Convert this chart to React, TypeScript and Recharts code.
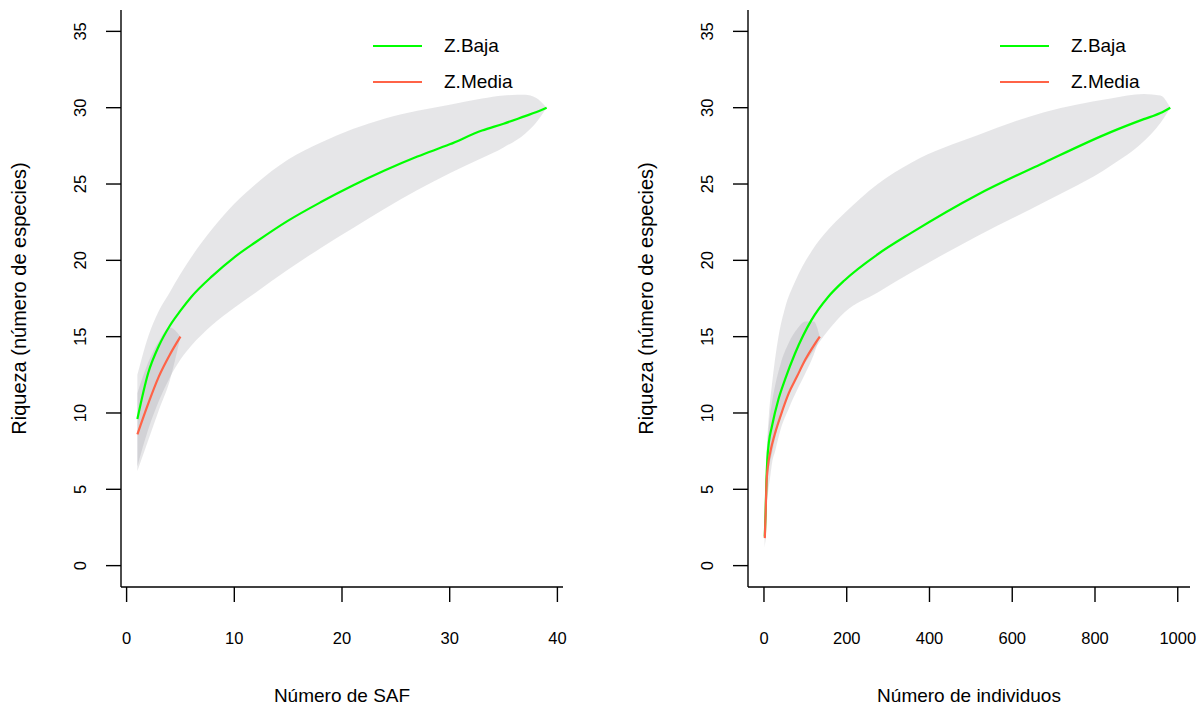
import { ComposedChart, Area, Line, XAxis, YAxis } from "recharts"

const FONT = '"Liberation Sans", Arial, sans-serif'

// eje Y compartido
const riquezaTicks = [0, 5, 10, 15, 20, 25, 30, 35]

// leyenda
const seriesNames = ["Z.Baja", "Z.Media"]
const seriesColors = ["#00ff00", "#ff6347"]

// Número de SAF
const safTicks = [0, 10, 20, 30, 40]
const bajaSafX = [1, 2, 3, 4, 5, 6, 8, 10, 12, 15, 18, 21, 24, 27, 30, 33, 35, 37, 38, 39]
const bajaSafMean = [9.6, 12.6, 14.4, 15.7, 16.7, 17.6, 19.0, 20.2, 21.2, 22.6, 23.8, 24.9, 25.9, 26.8, 27.6, 28.5, 28.95, 29.45, 29.7, 30.0]
const bajaSafUpper = [12.5, 15.0, 16.7, 17.9, 19.1, 20.2, 22.1, 23.7, 25.0, 26.6, 27.7, 28.6, 29.3, 29.8, 30.2, 30.6, 30.8, 30.85, 30.65, 30.0]
const bajaSafLower = [6.5, 8.9, 10.8, 12.3, 13.5, 14.4, 15.8, 16.9, 17.9, 19.4, 20.8, 22.1, 23.4, 24.6, 25.7, 26.7, 27.4, 28.3, 29.0, 30.0]
const mediaSafX = [1, 2, 3, 4, 5]
const mediaSafMean = [8.6, 10.6, 12.4, 13.8, 15.0]
const mediaSafUpper = [11.3, 13.3, 14.7, 15.6, 15.0]
const mediaSafLower = [6.2, 8.2, 10.2, 12.1, 15.0]

// Número de individuos
const indTicks = [0, 200, 400, 600, 800, 1000]
const bajaIndX = [2, 4, 6, 8, 12, 19, 35, 51, 75, 115, 155, 195, 275, 356, 516, 677, 838, 918, 958, 982]
const bajaIndMean = [1.9, 3.6, 5.6, 6.9, 8.1, 9.1, 10.9, 12.2, 13.9, 16.1, 17.6, 18.7, 20.4, 21.8, 24.3, 26.4, 28.4, 29.25, 29.65, 30.0]
const bajaIndUpper = [2.6, 5.2, 7.0, 8.2, 9.9, 11.8, 15.0, 16.9, 18.6, 20.6, 22.0, 23.1, 25.0, 26.4, 28.2, 29.7, 30.6, 30.9, 30.8, 30.0]
const bajaIndLower = [1.2, 2.2, 4.0, 5.2, 6.3, 7.3, 9.3, 10.7, 12.2, 13.9, 15.4, 16.6, 17.9, 19.2, 21.6, 23.8, 26.2, 27.8, 29.0, 30.0]
const mediaIndX = [2, 4, 6, 10, 15, 20, 27, 40, 60, 80, 100, 120, 135]
const mediaIndMean = [1.8, 3.4, 5.3, 6.6, 7.4, 8.0, 8.7, 9.8, 11.3, 12.4, 13.5, 14.4, 15.0]
const mediaIndUpper = [2.4, 4.8, 7.0, 8.6, 9.9, 10.8, 11.8, 13.2, 14.6, 15.5, 16.0, 16.0, 15.0]
const mediaIndLower = [1.2, 2.0, 3.6, 4.8, 5.8, 6.8, 7.5, 8.9, 10.3, 11.5, 12.6, 13.8, 15.0]

const toRows = (xs: number[], mean: number[], lower: number[], upper: number[]) =>
  xs.map((x, i) => ({ x, y: mean[i], band: [lower[i], upper[i]] }))

const XTick = ({ x, y, payload }: any) => (
  <text x={x} y={y + 40} textAnchor="middle" fontSize={16.5} fontFamily={FONT} fill="#000">
    {payload.value}
  </text>
)

const YTick = ({ x, y, payload }: any) => {
  const bx = x - 18
  return (
    <text x={bx} y={y} transform={`rotate(-90 ${bx} ${y})`} textAnchor="middle" fontSize={16.5} fontFamily={FONT} fill="#000">
      {payload.value}
    </text>
  )
}

function ChartLegend({ left }: { left: number }) {
  return (
    <div style={{ position: "absolute", left, top: 28, fontFamily: FONT, fontSize: 19, color: "#000" }}>
      {seriesNames.map((name, i) => (
        <div key={name} style={{ display: "flex", alignItems: "center", height: 36 }}>
          <svg width={49} height={4} style={{ display: "block" }}>
            <line x1={0} y1={2} x2={49} y2={2} stroke={seriesColors[i]} strokeWidth={2} />
          </svg>
          <span style={{ marginLeft: 22 }}>{name}</span>
        </div>
      ))}
    </div>
  )
}

type Row = { x: number; y: number; band: number[] }
type PanelProps = {
  baja: Row[]
  media: Row[]
  xDomain: [number, number]
  xTicks: number[]
  yAxisWidth: number
  rightMargin: number
  xTitle: string
  legendLeft: number
}

function Panel({ baja, media, xDomain, xTicks, yAxisWidth, rightMargin, xTitle, legendLeft }: PanelProps) {
  const plotLeft = yAxisWidth
  const plotRight = 602 - rightMargin
  const titleX = (plotLeft + plotRight) / 2
  const yTitleX = yAxisWidth - 95
  return (
    <div style={{ position: "relative", width: 602, height: 709 }}>
      <ComposedChart width={602} height={709} margin={{ top: 10, right: rightMargin, bottom: 0, left: 0 }}>
        <XAxis
          type="number"
          dataKey="x"
          domain={xDomain}
          ticks={xTicks}
          allowDataOverflow
          height={122}
          tickSize={15}
          tick={<XTick />}
          axisLine={{ stroke: "#000", strokeWidth: 1.4 }}
          tickLine={{ stroke: "#000", strokeWidth: 1.4 }}
          label={() => (
            <text x={titleX} y={702} textAnchor="middle" fontSize={19} fontFamily={FONT} fill="#000">
              {xTitle}
            </text>
          )}
        />
        <YAxis
          type="number"
          domain={[-1.4, 36.4]}
          ticks={riquezaTicks}
          allowDataOverflow
          width={yAxisWidth}
          tickSize={15}
          tick={<YTick />}
          axisLine={{ stroke: "#000", strokeWidth: 1.4 }}
          tickLine={{ stroke: "#000", strokeWidth: 1.4 }}
          label={() => (
            <text
              x={yTitleX}
              y={298.5}
              transform={`rotate(-90 ${yTitleX} 298.5)`}
              textAnchor="middle"
              fontSize={20}
              fontFamily={FONT}
              fill="#000"
            >
              Riqueza (número de especies)
            </text>
          )}
        />
        <Area data={baja} dataKey="band" type="monotone" stroke="none" fill="#8c8c96" fillOpacity={0.22} legendType="none" isAnimationActive={false} />
        <Area data={media} dataKey="band" type="monotone" stroke="none" fill="#8c8c96" fillOpacity={0.22} legendType="none" isAnimationActive={false} />
        <Line data={baja} dataKey="y" name={seriesNames[0]} type="monotone" stroke={seriesColors[0]} strokeWidth={2.2} dot={false} isAnimationActive={false} />
        <Line data={media} dataKey="y" name={seriesNames[1]} type="monotone" stroke={seriesColors[1]} strokeWidth={2.2} dot={false} isAnimationActive={false} />
      </ComposedChart>
      <ChartLegend left={legendLeft} />
    </div>
  )
}

export default function App() {
  return (
    <div style={{ position: "absolute", left: 0, top: 0, width: 1204, height: 709, background: "#fff" }}>
      <div style={{ position: "absolute", left: 0, top: 0 }}>
        <Panel
          baja={toRows(bajaSafX, bajaSafMean, bajaSafLower, bajaSafUpper)}
          media={toRows(mediaSafX, mediaSafMean, mediaSafLower, mediaSafUpper)}
          xDomain={[-0.52, 40.52]}
          xTicks={safTicks}
          yAxisWidth={121}
          rightMargin={39}
          xTitle="Número de SAF"
          legendLeft={373}
        />
      </div>
      <div style={{ position: "absolute", left: 602, top: 0 }}>
        <Panel
          baja={toRows(bajaIndX, bajaIndMean, bajaIndLower, bajaIndUpper)}
          media={toRows(mediaIndX, mediaIndMean, mediaIndLower, mediaIndUpper)}
          xDomain={[-38.6, 1029.6]}
          xTicks={indTicks}
          yAxisWidth={146}
          rightMargin={14}
          xTitle="Número de individuos"
          legendLeft={398}
        />
      </div>
    </div>
  )
}
